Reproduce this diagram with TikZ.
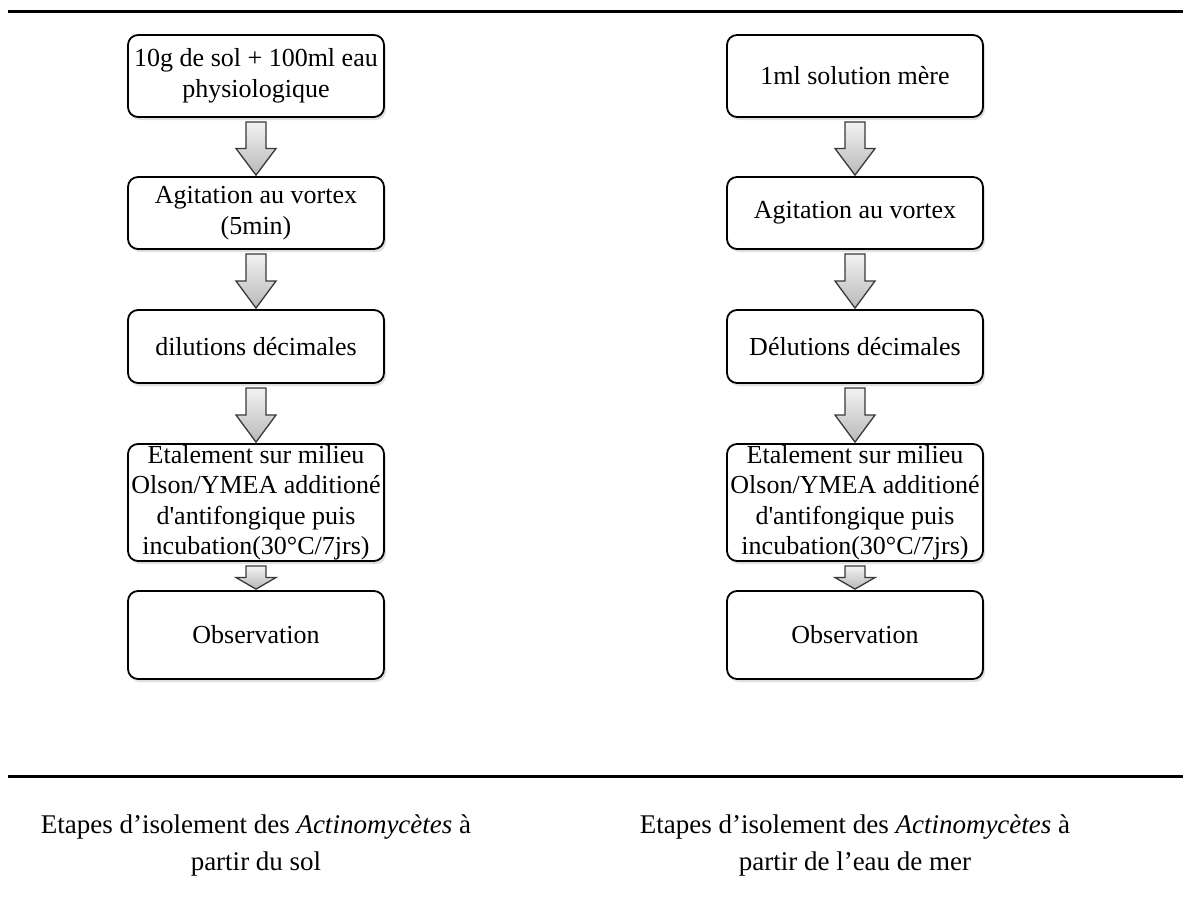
\documentclass[tikz,border=0pt]{standalone}
\usepackage{fontspec}
\setmainfont{Liberation Serif}
\usetikzlibrary{shadows,calc}
\tikzset{
  stepbox/.style={draw=black, line width=1.8pt, rounded corners=10pt, fill=white,
    minimum width=256pt, align=center, inner sep=0pt,
    font=\fontsize{26}{31}\selectfont,
    drop shadow={shadow xshift=2pt, shadow yshift=-3pt, opacity=0.25, fill=gray}},
  barrow/.style={draw=gray!45!black, line width=1.3pt, top color=gray!10, bottom color=gray!55, line join=miter},
  caption/.style={align=center, font=\fontsize{27}{37}\selectfont},
  rule/.style={line width=3pt}
}
\newcommand{\blockarrow}[2]{%
  \draw[barrow] let \p1=($(#1.south)+(0,4)$), \p2=($(#2.north)+(0,-1)$) in
    (\x1-10pt,\y1) -- (\x1+10pt,\y1) -- (\x1+10pt,{\y2+0.5*(\y1-\y2)}) -- (\x1+20pt,{\y2+0.5*(\y1-\y2)})
    -- (\x1,\y2) -- (\x1-20pt,{\y2+0.5*(\y1-\y2)}) -- (\x1-10pt,{\y2+0.5*(\y1-\y2)}) -- cycle;}
\begin{document}
\begin{tikzpicture}[x=1pt,y=-1pt]
\useasboundingbox (0,0) rectangle (1183,908);
\coordinate (t1) at (8,11); \coordinate (t2) at (1183,11);
\coordinate (b1) at (8,776); \coordinate (b2) at (1183,776);
\draw[rule] (t1) -- (t2);
\draw[rule] (b1) -- (b2);
% left column
\node[stepbox, minimum height=82pt] (l1) at (256,76) {10g de sol + 100ml eau\\physiologique};
\node[stepbox, minimum height=72pt] (l2) at (256,213) {Agitation au vortex\\(5min)};
\node[stepbox, minimum height=73pt] (l3) at (256,346.5) {dilutions décimales};
\node[stepbox, minimum height=117pt, font=\fontsize{26}{30.5}\selectfont] (l4) at (256,502.5) {Etalement sur milieu\\Olson/YMEA additioné\\d\textquotesingle antifongique puis\\incubation(30°C/7jrs)};
\node[stepbox, minimum height=88pt] (l5) at (256,635) {Observation};
% right column
\node[stepbox, minimum height=82pt] (r1) at (855,76) {1ml solution mère};
\node[stepbox, minimum height=72pt] (r2) at (855,213) {Agitation au vortex};
\node[stepbox, minimum height=73pt] (r3) at (855,346.5) {Délutions décimales};
\node[stepbox, minimum height=117pt, font=\fontsize{26}{30.5}\selectfont] (r4) at (855,502.5) {Etalement sur milieu\\Olson/YMEA additioné\\d\textquotesingle antifongique puis\\incubation(30°C/7jrs)};
\node[stepbox, minimum height=88pt] (r5) at (855,635) {Observation};
\blockarrow{l1}{l2}
\blockarrow{l2}{l3}
\blockarrow{l3}{l4}
\blockarrow{l4}{l5}
\blockarrow{r1}{r2}
\blockarrow{r2}{r3}
\blockarrow{r3}{r4}
\blockarrow{r4}{r5}
\node[caption] (c1) at (256,845) {Etapes d’isolement des \textit{Actinomycètes} à\\partir du sol};
\node[caption] (c2) at (855,845) {Etapes d’isolement des \textit{Actinomycètes} à\\partir de l’eau de mer};
\end{tikzpicture}
\end{document}
